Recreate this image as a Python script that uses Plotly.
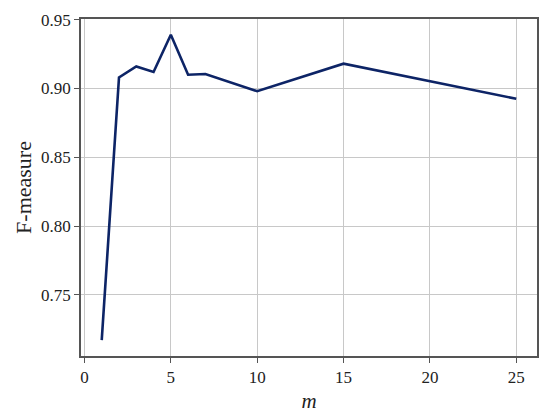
import plotly.graph_objects as go

m_values = [1, 2, 3, 4, 5, 6, 7, 10, 15, 25]
f_measure = [0.717, 0.908, 0.916, 0.912, 0.939, 0.910, 0.9105, 0.898, 0.918, 0.8925]
x_ticks = [0, 5, 10, 15, 20, 25]
y_ticks = [0.75, 0.80, 0.85, 0.90, 0.95]

fig = go.Figure()
fig.add_trace(go.Scatter(
    x=m_values, y=f_measure, mode="lines",
    line=dict(color="#0d2466", width=2.6),
    showlegend=False,
))

font_family = "Liberation Serif"
axis_common = dict(
    showgrid=True, gridcolor="#c8c8c8", gridwidth=1,
    showline=True, linecolor="#555555", linewidth=1.5, mirror=True,
    ticks="outside", ticklen=5, tickcolor="#555555", tickwidth=1,
    zeroline=False,
    tickfont=dict(family=font_family, size=17, color="#222222"),
)

fig.update_layout(
    width=550, height=420,
    margin=dict(l=81, r=11, t=18, b=61),
    paper_bgcolor="white", plot_bgcolor="white",
    font=dict(family=font_family, color="#222222"),
    xaxis=dict(
        range=[-0.2, 26.2], tickvals=x_ticks,
        title=dict(text="<i>m</i>", font=dict(family=font_family, size=21), standoff=7),
        **axis_common,
    ),
    yaxis=dict(
        range=[0.7055, 0.9505], tickvals=y_ticks, tickformat=".2f",
        title=dict(text="F-measure", font=dict(family=font_family, size=22), standoff=3),
        **axis_common,
    ),
)

fig.write_html(
    "out.html",
    config={"displayModeBar": False},
    post_script="document.body.style.margin='0';document.body.style.overflow='hidden';",
)
